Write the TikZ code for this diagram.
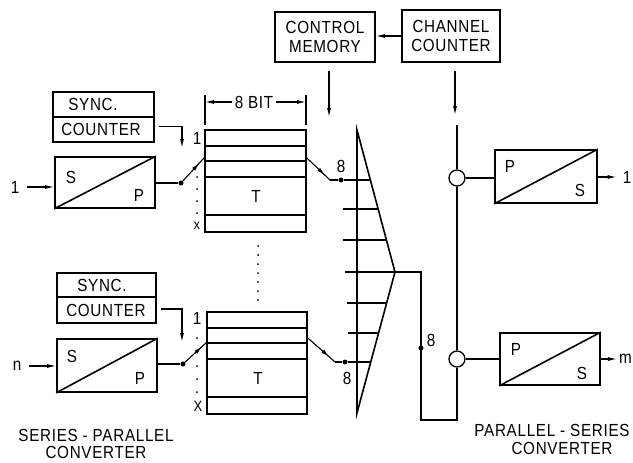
\documentclass[tikz,border=0pt]{standalone}
\usepackage{fontspec}
\setmainfont{Liberation Sans}[LetterSpace=4, FakeStretch=0.87]
\usetikzlibrary{arrows.meta,decorations.markings,calc}
\begin{document}
\begin{tikzpicture}[x=1pt,y=-1pt,
  box/.style={draw, line width=1.7pt, inner sep=0pt},
  lbl/.style={font=\fontsize{17.5}{19}\selectfont, inner sep=0pt},
  conn/.style={line width=1.1pt},
  heavy/.style={line width=1.6pt},
  rowline/.style={line width=1.3pt},
  tip/.style={-{Latex[length=9pt,width=4pt]}},
  midtip/.style={decoration={markings, mark=at position #1 with {\arrow{Latex[length=9pt,width=4pt]}}}, postaction={decorate}},
  dotn/.style={circle, fill, inner sep=0pt, minimum size=5pt},
  smalldot/.style={circle, fill, inner sep=0pt, minimum size=2pt},
  ring/.style={circle, draw, line width=1.3pt, fill=white, minimum size=16pt, inner sep=0pt}]
\useasboundingbox (0,0) rectangle (633,463);

% ---------- top: control memory and channel counter ----------
\node[box, lbl, minimum width=100pt, minimum height=50pt, align=center] (ctrl) at (325,37) {CONTROL\\MEMORY};
\node[box, lbl, minimum width=98pt, minimum height=52pt, align=center] (chan) at (451,36) {CHANNEL\\COUNTER};
\draw[conn,tip] (chan.west) -- (chan.west -| ctrl.east);
\coordinate (cmB) at (329,117);
\draw[conn,tip] ($(ctrl.south)+(4,8)$) -- (cmB);
\coordinate (ccB) at (455,115);
\draw[conn,tip] ($(chan.south)+(4,8)$) -- (ccB);

% ---------- left: series-parallel converters ----------
\node[box, minimum width=101pt, minimum height=25pt] (sync1) at (103.5,104.5) {};
\node[box, minimum width=101pt, minimum height=25pt] (cnt1) at (103.5,129.5) {};
\node[lbl] at (93,104.5) {SYNC.};
\node[lbl] at (101,129.5) {COUNTER};
\node[box, minimum width=100pt, minimum height=51pt] (sp1) at (105,182.5) {};
\draw[heavy] (sp1.south west) -- (sp1.north east);
\node[lbl] at (71,177) {S};
\node[lbl] at (139,195) {P};
\node[lbl] (in1) at (15,187) {1};
\draw[conn,tip] ($(in1.east)+(8,0)$) -- ($(in1.east -| sp1.west)$);
\node[dotn] (d1) at (181,183) {};
\draw[conn] (d1 -| sp1.east) -- (d1);
\coordinate (ca1) at (182,148);
\draw[conn,tip] ($(cnt1.east)+(4,-3)$) -| (ca1);

\node[box, minimum width=99pt, minimum height=24pt] (sync2) at (106.5,285) {};
\node[box, minimum width=99pt, minimum height=26pt] (cnt2) at (106.5,310) {};
\node[lbl] at (102,285) {SYNC.};
\node[lbl] at (106,310) {COUNTER};
\node[box, minimum width=100pt, minimum height=53pt] (sp2) at (107,365.5) {};
\draw[heavy] (sp2.south west) -- (sp2.north east);
\node[lbl] at (72,356) {S};
\node[lbl] at (140,378) {P};
\node[lbl] (in2) at (17,366) {n};
\draw[conn,tip] ($(in2.east)+(8,0)$) -- ($(in2.east -| sp2.west)$);
\node[dotn] (d2) at (183,364) {};
\draw[conn] (d2 -| sp2.east) -- (d2);
\coordinate (ca2) at (182,342);
\draw[conn,tip] ($(cnt2.east)+(4,-1)$) -| (ca2);

% ---------- memories ----------
\node[box, minimum width=101pt, minimum height=102pt] (mem1) at (255.5,181) {};
\foreach \yy in {146,161,177,215} \draw[rowline] (mem1.west |- 0,\yy) -- (mem1.east |- 0,\yy);
\node[lbl] at (256,196) {T};
\node[box, minimum width=100pt, minimum height=102pt] (mem2) at (257,363) {};
\foreach \yy in {328,343,359,397} \draw[rowline] (mem2.west |- 0,\yy) -- (mem2.east |- 0,\yy);
\node[lbl] at (258,378) {T};

% 8 BIT dimension
\coordinate (dimL) at (205,95);
\coordinate (dimR) at (306,95);
\draw[conn] (dimL) -- ++(0,30);
\draw[conn] (dimR) -- ++(0,30);
\node[lbl] (dimlbl) at (254,102) {8 BIT};
\draw[conn,tip] ([xshift=-3pt]dimlbl.west) -- (dimlbl.west -| dimL);
\draw[conn,tip] ([xshift=3pt]dimlbl.east) -- (dimlbl.east -| dimR);

% row labels and dots
\node[lbl] at (197,138) {1};
\foreach \yy in {177,189,201,213} \node[smalldot] at (197,\yy) {};
\node[lbl, font=\fontsize{14}{15}\selectfont] at (197,226) {x};
\node[lbl] at (197,318) {1};
\foreach \yy in {338,366,379,392} \node[smalldot] at (197,\yy) {};
\node[lbl, font=\fontsize{15}{15}\selectfont] at (198,406) {X};
\foreach \yy in {246,255,264,273,282,291,300} \node[smalldot] at (258,\yy) {};

% switches into memories
\coordinate (s1e) at (204,158);
\draw[conn, midtip=0.8] (d1) -- (s1e);
\coordinate (s2e) at (207,342);
\draw[conn, midtip=0.8] (d2) -- (s2e);

% ---------- multiplexer ----------
\coordinate (mt) at (357,130);
\coordinate (ma) at (395,272);
\coordinate (mb) at (357,413);
\draw[heavy, line join=miter] (mt) -- (ma) -- (mb) -- cycle;
\foreach \ya/\xa/\xb in {209/343/378.1, 240/343/386.4, 303/347/386.6, 333/348/378.6}
  \draw[rowline] (\xa,\ya) -- (\xb,\ya);
\draw[rowline] (345,272) -- (ma);

% switches out of memories
\node[dotn] (d3) at (341,180) {};
\coordinate (s3k) at (330,180);
\draw[conn, midtip=0.8] (mem1.east |- 0,158) -- (s3k);
\draw[conn] (s3k) -- (d3) -- (370.4,180);
\node[lbl] at (341,166) {8};
\node[dotn] (d4) at (345,362) {};
\coordinate (s4k) at (335,362);
\draw[conn, midtip=0.8] (mem2.east |- 0,338) -- (s4k);
\draw[conn] (s4k) -- (d4) -- (370.7,362);
\node[lbl] at (347,378) {8};

% ---------- bus ----------
\node[ring] (r1) at (457,178) {};
\node[ring] (r2) at (457,359) {};
\coordinate (busT) at (457,125);
\coordinate (b1) at (421,272);
\coordinate (b2) at (421,420);
\coordinate (b3) at (459,420);
\draw[heavy] (busT) -- (r1);
\draw[heavy] (r1) -- (r2);
\draw[heavy] (r2.south) -- (r2.south |- b3) -- (b2) -- (b1) -- (ma);
\node[dotn] (d5) at (421,348) {};
\node[lbl] at (431,340) {8};

% ---------- right: parallel-series converters ----------
\node[box, minimum width=102pt, minimum height=53pt] (ps1) at (546,176.5) {};
\draw[heavy] (ps1.south west) -- (ps1.north east);
\node[lbl] at (510,166) {P};
\node[lbl] at (580,190) {S};
\draw[conn] (r1.east) -- (r1.east -| ps1.west);
\node[lbl] (out1) at (627,177) {1};
\draw[conn,tip] (ps1.east |- out1) -- ([xshift=-6pt]out1.west);

\node[box, minimum width=100pt, minimum height=52pt] (ps2) at (550,359) {};
\draw[heavy] (ps2.south west) -- (ps2.north east);
\node[lbl] at (516,349) {P};
\node[lbl] at (582,373) {S};
\draw[conn] (r2.east) -- (r2.east -| ps2.west);
\node[lbl, anchor=east] (out2) at (632,359) {m};
\draw[conn,tip] (ps2.east) -- ([xshift=-2pt]out2.west);

% ---------- captions ----------
\node[lbl] at (96,435) {SERIES - PARALLEL};
\node[lbl] at (96,452) {CONVERTER};
\node[lbl] at (552,430) {PARALLEL - SERIES};
\node[lbl] at (562,448) {CONVERTER};
\end{tikzpicture}
\end{document}
